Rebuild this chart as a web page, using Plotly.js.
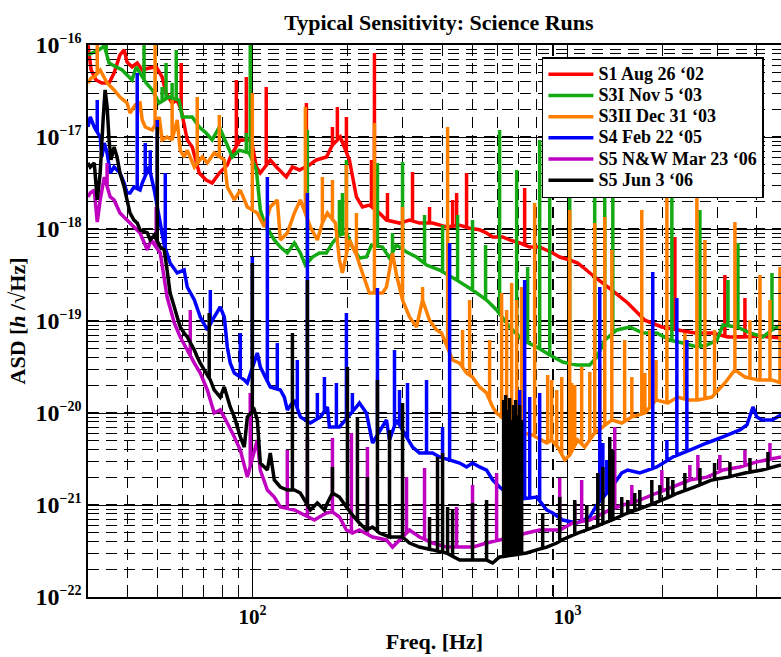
<!DOCTYPE html>
<html>
<head>
<meta charset="utf-8">
<script src="https://cdn.plot.ly/plotly-3.0.1.min.js"></script>
<style>html,body{margin:0;padding:0;background:#fff;overflow:hidden}</style>
</head>
<body>
<div id="chart" style="width:781px;height:657px"></div>
<script>
// ---------- Data ----------
const seriesNames = ["S1 Aug 26 \u201802", "S3I Nov 5 \u201803", "S3II Dec 31 \u201803", "S4 Feb 22 \u201805", "S5 N&amp;W Mar 23 \u201806", "S5 Jun 3 \u201806"];
const seriesColors = ["#ff0000", "#14aa14", "#ff8000", "#0000ff", "#c000c0", "#000000"];

// S1 (red): broadband floor, frequency [Hz] and ASD [1/sqrt(Hz)]
const s1Freq = [30,30.7,31.8,33.2,35.0,36.3,37.9,39.1,39.9,41.4,43.0,44.6,46.9,49.4,51.6,53.1,55.5,57.6,59.3,62.0,64.3,67.7,71.2,74.4,78.4,83.1,85.5,91.4,99.1,102.8,105.8,113.8,119.0,128.0,133.8,140.8,151.5,159.5,171.6,179.3,190.0,203.0,213.7,223.3,235.0,252.9,266.2,292.9,315.1,339.0,372.9,413.2,454.6,489.0,526.0,553.7,578.6,622.6,655.3,705.2,758.8,816.4,898.0,945.2,1017,1078,1119,1221,1384,1555,1762,1995,2243,2541,2877,3236,3664,4150,4770];
const s1Asd = [1.0e-16,5.35e-17,4.17e-17,3.86e-17,3.86e-17,4.96e-17,7.79e-17,8.83e-17,6.54e-17,5.77e-17,6.37e-17,5.35e-17,5.63e-17,5.77e-17,4.49e-17,3.01e-17,2.34e-17,2.52e-17,1.97e-17,9.3e-18,7.79e-18,4.06e-18,3.41e-18,3.16e-18,4.06e-18,4.96e-18,6.37e-18,9.3e-18,9.3e-18,4.72e-18,4.06e-18,5.63e-18,4.72e-18,3.68e-18,4.72e-18,4.38e-18,4.96e-18,5.63e-18,6.07e-18,8.19e-18,1.0e-17,5.63e-18,2.23e-18,1.735e-18,1.82e-18,1.49e-18,1.25e-18,1.16e-18,1.25e-18,1.16e-18,1.16e-18,1.05e-18,1.1e-18,1.02e-18,9.8e-19,9.06e-19,8.19e-19,8.19e-19,7.6e-19,7.05e-19,6.37e-19,6.37e-19,5.49e-19,4.96e-19,4.6e-19,4.27e-19,3.86e-19,3.01e-19,2.17e-19,1.57e-19,1.02e-19,8.61e-20,8.0e-20,7.41e-20,7.41e-20,6.7e-20,6.7e-20,6.85e-20,6.54e-20];
// S1 spectral lines: frequency and peak ASD
const s1LineFreq = [59.3,88.8,95.5,110.5,148.2,179.3,185.9,198.6,238.6,243.8,268.2,322.1,364.8,431.8,444.7,478.3,731.5,2195,3164,3664];
const s1LineAsd = [6.37e-17,4.17e-17,4.49e-17,3.49e-17,2.34e-17,1.285e-17,2.12e-17,1.65e-17,5.63e-18,8.19e-17,2.46e-18,4.17e-18,1.735e-18,2.07e-18,2.46e-18,4.06e-18,2.79e-18,8.19e-19,3.16e-19,1.78e-19];

// S3I (green)
const s3aFreq = [30,31.4,32.5,33.8,35.0,36.9,38.5,40.5,41.4,42.7,45.9,48.0,50.5,54.3,58.4,59.8,64.3,67.7,71.2,74.4,78.4,82.5,86.2,90.7,97.6,102.8,105.8,109.0,117.2,122.5,128.9,135.7,141.8,147.1,154.9,163.0,171.6,179.3,188.7,198.6,207.5,218.4,229.9,238.6,258.5,272.2,286.5,308.3,331.7,356.9,392.6,444.7,499.6,553.7,595.8,655.3,721.0,798.7,878.5,966.3,1071,1178,1240,1314,1435,1579,1736,1923,2116,2327,2578,2774,2985,3119,3456,3801,4180,4465,4770];
const s3aAsd = [7.79e-17,8.4e-17,8.83e-17,9.77e-17,6.37e-17,5.77e-17,5.35e-17,4.49e-17,4.17e-17,5.77e-17,3.86e-17,3.25e-17,2.34e-17,2.72e-17,2.52e-17,1.65e-17,1.65e-17,1.285e-17,1.105e-17,9.3e-18,1.285e-17,8.61e-18,6.07e-18,7.2e-18,6.7e-18,4.38e-18,1.61e-18,1.16e-18,7.6e-19,6.37e-19,5.49e-19,7.05e-19,5.49e-19,4.06e-19,4.96e-19,5.49e-19,5.49e-19,7.05e-19,8.61e-19,9.06e-19,6.37e-19,4.84e-19,4.96e-19,6.7e-19,6.37e-19,4.84e-19,6.7e-19,5.63e-19,4.96e-19,4.06e-19,3.58e-19,2.79e-19,2.17e-19,1.69e-19,1.32e-19,8.61e-20,6.2e-20,5.22e-20,4.27e-20,3.58e-20,3.33e-20,3.33e-20,4.06e-20,6.2e-20,8.0e-20,8.61e-20,7.41e-20,7.41e-20,6.2e-20,5.77e-20,5.22e-20,5.49e-20,6.2e-20,9.06e-20,8.61e-20,7.41e-20,6.7e-20,8.0e-20,9.06e-20];
const s3aLineFreq = [34.3,45.2,51.6,53.1,55.5,57.2,95.5,98.3,149.3,188.7,192.9,198.6,249.2,278.2,299.4,351.7,401.3,447.9,499.6,549.7,609.0,689.9,747.7,816.4,878.5,1017,1221,1314,1394,2147,2636,3236,3481,4465];
const s3aLineAsd = [1.2e-16,1.2e-16,3.49e-17,6.37e-17,3.86e-17,8.83e-17,1.105e-17,1.2e-16,1.19e-17,2.07e-18,2.46e-18,5.63e-18,5.22e-18,9.06e-19,5.35e-18,1.42e-18,1.105e-18,1.42e-18,1.25e-18,6.7e-19,1.19e-17,4.38e-18,3.86e-19,9.3e-18,5.63e-18,5e-18,5e-18,5e-18,5e-18,5e-18,1.61e-18,2.79e-19,7.05e-19,3.33e-19];

// S3II (orange)
const s3bFreq = [30,30.7,31.4,32.8,34.5,36.3,37.9,39.9,40.8,42.4,43.9,44.6,45.6,48.0,50.5,51.6,53.5,55.5,57.6,58.9,60.6,62.0,65.3,69.2,71.8,75.5,81.3,83.1,87.5,91.4,96.2,103.5,109.0,113.8,119.8,122.5,128.9,135.7,141.8,152.6,160.6,166.6,172.8,183.3,188.7,192.9,203.0,213.7,223.3,235.0,258.5,266.2,278.2,286.5,299.4,315.1,331.7,346.6,364.8,383.9,398.2,431.8,454.6,478.3,499.6,526.0,553.7,578.6,595.8,622.6,655.3,689.9,721.0,775.5,859.4,891.4,931.4,980.4,1017,1078,1135,1221,1296,1384,1488,1602,1762,1912,2084,2243,2413,2597,2877,3164,3405,3664,4030,4465,4770];
const s3bAsd = [3.86e-17,4.38e-17,4.49e-17,5.35e-17,3.86e-17,3.25e-17,2.72e-17,2.34e-17,1.82e-17,2.23e-17,2.34e-17,1.53e-17,1.285e-17,1.19e-17,1.65e-17,9.3e-18,1.0e-17,9.3e-18,1.53e-17,7.2e-18,6.07e-18,7.2e-18,4.72e-18,6.07e-18,5.22e-18,6.7e-18,5.63e-18,2.86e-18,2.07e-18,2.65e-18,1.735e-18,1.49e-18,1.05e-18,1.735e-18,2.07e-18,7.6e-19,9.06e-19,1.49e-18,2.07e-18,1.05e-18,7.6e-19,1.16e-18,1.49e-18,1.16e-18,4.6e-19,3.33e-19,7.6e-19,5.22e-19,3.33e-19,2.01e-19,2.01e-19,2.34e-19,5.49e-19,3.16e-19,1.69e-19,1.105e-19,8.61e-20,1.69e-19,1.02e-19,8.0e-20,7.41e-20,3.77e-20,3.49e-20,2.72e-20,2.46e-20,1.92e-20,1.65e-20,1.162e-20,1.0e-20,8.83e-21,8.0e-21,6.87e-21,6.07e-21,5.77e-21,4.72e-21,5.09e-21,4.27e-21,3.09e-21,3.49e-21,5.09e-21,4.27e-21,6.07e-21,7.05e-21,8.41e-21,7.79e-21,9.06e-21,1.0e-20,1.385e-20,1.285e-20,1.49e-20,1.385e-20,1.385e-20,1.49e-20,2.12e-20,2.94e-20,2.46e-20,2.29e-20,2.29e-20,2.12e-20];
const s3bLineFreq = [32.1,49.0,55.5,66.7,78.4,99.8,147.1,166.6,179.3,198.6,213.7,243.8,299.4,346.6,416.3,464.5,489.0,566.0,618.1,641.1,665.0,689.9,715.6,787.0,865.7,891.4,924.7,959.2,1017,1032,1055,1110,1178,1221,1267,1314,1384,1520,1602,1723,1762,1827,1912,2070,2361,2578,2734,2934,3405,3801,4090,4400,4734];
const s3bLineAsd = [1.2e-16,1.2e-16,2.52e-17,2.72e-17,1.735e-17,3.01e-17,2.12e-17,3.68e-18,3.41e-18,4.96e-18,1.49e-18,1.42e-17,1.735e-18,2.34e-19,1.285e-17,8.0e-20,1.69e-19,6.2e-20,2.01e-19,1.32e-19,2.59e-19,1.69e-19,2.34e-19,1.92e-18,2.59e-20,2.29e-20,1.78e-20,2.46e-20,1.61e-18,2.12e-20,2.01e-20,3.16e-20,2.79e-20,1.162e-18,3.33e-20,1.35e-18,5.92e-19,6.2e-20,2.46e-20,1.61e-18,2.72e-20,8.0e-20,3.77e-20,2.34e-18,7.41e-20,2.23e-18,7.6e-19,8.0e-20,1.19e-18,1.02e-19,3.16e-19,1.69e-19,3.86e-19];

// S4 (blue)
const s4Freq = [30,30.5,31.4,32.8,33.2,33.8,34.5,35.3,36.3,37.1,37.9,39.1,39.9,40.8,42.0,43.9,44.6,46.9,48.7,52.4,54.7,57.6,60.6,62.0,65.3,68.2,71.8,75.5,78.9,81.3,83.1,84.9,87.5,94.1,96.2,103.5,105.8,113.8,122.5,126.1,128.9,135.7,141.8,152.6,164.2,172.8,175.4,188.7,213.7,218.4,229.9,240.4,266.2,272.2,286.5,322.1,339.0,372.9,392.6,454.6,478.3,499.6,526.0,553.7,578.6,609.0,641.1,669.9,798.7,859.4,898.0,966.3,1071,1178,1240,1384,1488,1555,1698,1923,2162,2449,2774,3119,3532,3718,3886,3997,4150,4465,4770];
const s4Asd = [1.285e-17,1.65e-17,1.285e-17,1.0e-17,6.07e-18,8.61e-18,6.7e-18,4.06e-18,4.72e-18,4.38e-18,4.06e-18,3.16e-18,2.46e-18,2.46e-18,2.86e-18,2.65e-18,3.16e-18,4.72e-18,2.65e-18,6.7e-19,4.27e-19,3.33e-19,3.58e-19,2.34e-19,1.69e-19,1.105e-19,8.0e-20,1.105e-19,1.42e-19,1.105e-19,5.22e-20,3.49e-20,2.72e-20,2.29e-20,2.12e-20,4.49e-20,3.16e-20,1.92e-20,1.78e-20,1.49e-20,1.08e-20,1.385e-20,9.06e-21,7.79e-21,9.06e-21,1.162e-20,7.05e-21,7.05e-21,1.162e-20,1.285e-20,1.0e-20,4.72e-21,8.41e-21,5.09e-21,8.41e-21,4.27e-21,3.68e-21,3.68e-21,3.33e-21,2.86e-21,2.59e-21,2.86e-21,2.59e-21,2.40e-21,1.87e-21,1.57e-21,1.35e-21,1.13e-21,1.222e-21,8.83e-22,8.19e-22,6.87e-22,6.37e-22,7.41e-22,1.0e-21,1.57e-21,2.23e-21,2.40e-21,2.23e-21,2.59e-21,3.33e-21,3.96e-21,4.72e-21,5.49e-21,6.54e-21,7.41e-21,1.162e-20,9.06e-21,8.41e-21,8.41e-21,9.53e-21];
const s4LineFreq = [32.1,43.0,45.6,47.3,49.8,52.8,73.4,91.4,99.8,111.4,119.8,138.7,149.3,160.6,169.1,184.6,198.6,207.5,249.2,282.3,292.9,310.5,356.9,401.3,422.5,705.2,731.5,758.8,816.4,1267,1296,1334,1867,2070,2227,2396];
const s4LineAsd = [2.52e-17,4.96e-17,8.61e-18,7.2e-18,1.53e-17,4.06e-18,2.17e-19,7.41e-20,4.96e-19,3.68e-18,5.77e-20,3.77e-20,2.46e-18,1.65e-20,2.46e-20,2.12e-20,1.222e-19,1.65e-20,2.29e-19,4.84e-20,1.78e-20,2.12e-20,2.29e-20,7.05e-21,7.05e-19,1.78e-20,2.79e-19,1.49e-20,1.65e-20,2.34e-19,4.72e-21,3.09e-21,3.41e-19,5.09e-21,1.78e-19,6.2e-20];

// S5 N&W (magenta)
const s5aFreq = [30,30.5,31.4,32.1,32.8,33.8,35.3,36.3,37.9,39.9,42.0,43.9,46.3,47.6,50.9,53.5,56.4,58.9,62.0,65.3,68.2,71.8,75.5,78.9,83.1,87.5,91.4,96.2,103.5,105.8,111.4,117.2,122.5,135.7,141.8,157.1,163.0,171.6,179.3,188.7,198.6,207.5,218.4,240.4,266.2,278.2,315.1,339.0,372.9,413.2,454.6,499.6,553.7,609.0,742.2,816.4,898.0,945.2,1040,1178,1363,1500,1698,1923,2162,2449,2774,3119,3532,3997,4770];
const s5aAsd = [2.23e-18,2.46e-18,2.65e-18,1.19e-18,2.07e-18,3.68e-18,2.23e-18,2.07e-18,1.49e-18,1.25e-18,1.05e-18,9.06e-19,5.92e-19,7.6e-19,5.49e-19,1.82e-19,9.53e-20,6.7e-20,4.84e-20,3.49e-20,2.72e-20,1.78e-20,1.0e-20,1.08e-20,7.79e-21,5.49e-21,3.96e-21,2.01e-21,5.09e-21,2.40e-21,1.455e-21,1.222e-21,9.53e-22,8.83e-22,8.19e-22,6.87e-22,7.41e-22,8.19e-22,8.41e-22,7.41e-22,5.35e-22,4.96e-22,5.35e-22,4.49e-22,4.17e-22,3.49e-22,5.35e-22,4.49e-22,3.86e-22,3.49e-22,3.49e-22,3.49e-22,3.86e-22,4.17e-22,4.96e-22,5.35e-22,5.35e-22,5.35e-22,6.37e-22,6.87e-22,8.83e-22,1.0e-21,1.13e-21,1.35e-21,1.57e-21,1.87e-21,2.01e-21,2.40e-21,2.59e-21,2.94e-21,3.33e-21];
const s5aLineFreq = [34.5,49.4,63.4,98.3,128.9,149.3,179.3,206.0,231.6,308.3,351.7,444.7,499.6,595.8,631.8,655.3,679.8,705.2,945.2,1055,1110,1414,1602,1995,2449,2597,3051,3664,4400];
const s5aLineAsd = [5.22e-18,1.735e-18,1.32e-19,1.65e-20,3.96e-21,5.49e-21,5.35e-21,6.07e-21,4.27e-21,2.01e-21,2.52e-21,9.53e-22,1.65e-21,2.23e-21,2.40e-21,5.09e-21,3.96e-21,3.09e-21,1.97e-21,1.08e-21,1.87e-21,7.05e-21,1.65e-21,2.40e-21,2.72e-21,3.49e-21,3.49e-21,3.96e-21,4.72e-21];

// S5 Jun (black)
const s5bFreq = [30,30.5,31.4,32.1,32.8,33.5,34.0,34.5,35.0,35.5,36.3,37.1,37.9,39.1,39.9,40.8,42.0,43.0,43.9,46.3,47.3,48.7,50.9,52.4,53.5,54.7,56.4,57.6,58.9,60.6,62.0,65.3,66.7,68.2,70.2,73.4,75.5,78.9,81.3,84.9,87.5,91.4,94.1,96.2,101.2,103.5,105.8,111.4,113.8,117.2,122.5,128.9,135.7,141.8,152.6,160.6,169.1,172.8,179.3,188.7,198.6,207.5,218.4,229.9,240.4,252.9,272.2,299.4,315.1,339.0,372.9,413.2,454.6,499.6,553.7,578.6,609.0,742.2,798.7,859.4,924.7,959.2,1078,1221,1384,1555,1762,1995,2243,2541,2877,3236,3664,4150,4770];
const s5bAsd = [5.22e-18,4.72e-18,5.22e-18,2.07e-18,4.06e-18,1.53e-17,3.25e-17,2.12e-17,9.3e-18,5.63e-18,7.79e-18,6.07e-18,4.06e-18,2.86e-18,2.07e-18,1.49e-18,1.25e-18,1.16e-18,9.77e-19,9.06e-19,7.6e-19,8.61e-19,6.37e-19,5.92e-19,3.58e-19,2.01e-19,1.42e-19,1.105e-19,8.61e-20,7.41e-20,6.7e-20,4.84e-20,4.06e-20,3.49e-20,2.94e-20,2.29e-20,1.78e-20,1.49e-20,1.92e-20,1.162e-20,9.06e-21,5.49e-21,4.27e-21,9.06e-21,1.08e-20,8.41e-21,2.86e-21,2.40e-21,3.68e-21,1.87e-21,1.57e-21,1.455e-21,1.455e-21,1.35e-21,8.83e-22,1.05e-21,8.83e-22,1.05e-21,1.35e-21,1.222e-21,9.53e-22,7.79e-22,6.37e-22,5.35e-22,5.77e-22,4.96e-22,4.49e-22,4.49e-22,3.86e-22,3.49e-22,3.25e-22,3.01e-22,2.52e-22,2.52e-22,2.52e-22,2.34e-22,2.72e-22,3.01e-22,3.25e-22,3.49e-22,3.86e-22,4.17e-22,4.96e-22,5.77e-22,6.87e-22,8.19e-22,9.53e-22,1.13e-21,1.35e-21,1.57e-21,1.87e-21,2.01e-21,2.23e-21,2.40e-21,2.72e-21];
const s5bLineFreq = [49.8,72.8,99.8,133.8,149.3,179.3,200.1,215.3,231.6,249.2,272.2,299.4,364.8,386.8,401.3,416.3,431.8,499.6,553.7,627.2,636.5,645.8,655.3,665.0,674.9,684.8,694.9,705.2,715.6,834.5,945.2,1055,1152,1249,1296,1363,1394,1488,1555,1637,1698,1854,1967,2084,2162,2361,2636,2934,3283,3801,4336];
const s5bLineAsd = [1.285e-17,1.222e-19,4.27e-19,7.41e-20,2.79e-19,2.59e-21,3.16e-20,9.06e-21,2.01e-21,2.29e-20,6.54e-21,1.285e-20,7.41e-22,3.33e-21,3.68e-21,9.53e-22,8.83e-22,1.05e-21,1.13e-21,1.385e-20,1.57e-20,1.08e-20,1.455e-20,8.41e-21,1.222e-20,1.385e-20,9.53e-21,1.222e-20,8.41e-21,8.19e-22,1.222e-21,1.13e-21,1.0e-21,2.23e-21,2.59e-21,5.49e-21,3.96e-21,1.222e-21,1.13e-21,1.35e-21,1.455e-21,1.87e-21,1.65e-21,1.97e-21,1.87e-21,2.23e-21,2.52e-21,2.86e-21,2.94e-21,3.25e-21,3.77e-21];

// Axis spans and tick labels
const xSpan = [30, 4770];        // Hz
const ySpan = [1e-22, 1e-16];    // ASD
const yTickVals = [1e-22, 1e-21, 1e-20, 1e-19, 1e-18, 1e-17, 1e-16];
const yTickExp = ["\u221222", "\u221221", "\u221220", "\u221219", "\u221218", "\u221217", "\u221216"];
const xTickVals = [100, 1000];
const xTickExp = ["2", "3"];

// ---------- Build traces ----------
function footAt(bf, bv, f) {
  // height of the drawn floor line at frequency f (on its log-log segment)
  if (f <= bf[0]) return bv[0];
  for (let i = 1; i < bf.length; i++) {
    if (f <= bf[i]) {
      const t = (Math.log(f) - Math.log(bf[i-1])) / (Math.log(bf[i]) - Math.log(bf[i-1]));
      return Math.exp(Math.log(bv[i-1]) + t * (Math.log(bv[i]) - Math.log(bv[i-1])));
    }
  }
  return bv[bv.length - 1];
}
function build(bf, bv, lf, lv) {
  const n = Math.min(bf.length, bv.length);
  const F = bf.slice(0, n), V = bv.slice(0, n);
  const items = [];
  for (let i = 0; i < n; i++) items.push({f: F[i], ys: [V[i]]});
  const m = Math.min(lf.length, lv.length);
  for (let i = 0; i < m; i++) {
    const b = footAt(F, V, lf[i]);
    items.push({f: lf[i], ys: [b, lv[i], b]});
  }
  items.sort((a, b) => a.f - b.f);
  const x = [], y = [];
  items.forEach(it => it.ys.forEach(v => { x.push(it.f); y.push(v); }));
  return {x, y};
}

const sets = [
  [s1Freq, s1Asd, s1LineFreq, s1LineAsd],
  [s3aFreq, s3aAsd, s3aLineFreq, s3aLineAsd],
  [s3bFreq, s3bAsd, s3bLineFreq, s3bLineAsd],
  [s4Freq, s4Asd, s4LineFreq, s4LineAsd],
  [s5aFreq, s5aAsd, s5aLineFreq, s5aLineAsd],
  [s5bFreq, s5bAsd, s5bLineFreq, s5bLineAsd]
];
const FONT = "Liberation Serif, Times New Roman, serif";
const traces = sets.map((s, k) => {
  const d = build(s[0], s[1], s[2], s[3]);
  return {
    x: d.x, y: d.y, type: 'scatter', mode: 'lines',
    name: '<span style="font-size:18px">' + seriesNames[k] + '</span>',
    line: {color: seriesColors[k], width: 3.5, simplify: false},
    hoverinfo: 'skip'
  };
});

const gridDash = '11px,7px';
function axisBase() {
  return {
    type: 'log',
    showline: true, linecolor: '#000', linewidth: 1.6, mirror: 'ticks',
    ticks: 'inside', ticklen: 7, tickwidth: 1, tickcolor: '#000',
    showgrid: true, gridcolor: '#000', gridwidth: 1,
    tickmode: 'array',
    minor: {tickmode: 'linear', dtick: 'D1', showgrid: true, gridcolor: '#000', gridwidth: 1.1, griddash: gridDash,
            ticks: 'inside', ticklen: 7, tickcolor: '#000', tickwidth: 1},
    zeroline: false, fixedrange: true
  };
}

const layout = {
  width: 781, height: 657,
  margin: {l: 88, r: 0, t: 45, b: 60},
  paper_bgcolor: '#fff', plot_bgcolor: '#fff',
  font: {family: FONT, color: '#000', weight: 'bold'},
  title: {text: 'Typical Sensitivity: Science Runs', xref: 'container', x: 0.562, xanchor: 'center',
          yref: 'container', y: 0.966, yanchor: 'middle',
          font: {family: FONT, size: 22, color: '#000', weight: 'bold'}},
  xaxis: Object.assign(axisBase(), {
    range: [Math.log10(xSpan[0]), Math.log10(xSpan[1])],
    tickvals: xTickVals,
    ticktext: xTickExp.map(e => '10<sup><span style="font-size:14px">' + e + '</span></sup>'),
    tickfont: {family: FONT, size: 21, color: '#000', weight: 'bold'},
    title: {text: 'Freq. [Hz]', font: {family: FONT, size: 22, color: '#000', weight: 'bold'}, standoff: 6}
  }),
  yaxis: Object.assign(axisBase(), {
    range: [Math.log10(ySpan[0]), Math.log10(ySpan[1])],
    tickvals: yTickVals,
    ticktext: yTickExp.map(e => '10<sup><span style="font-size:14px">' + e + '</span></sup>'),
    tickfont: {family: FONT, size: 24, color: '#000', weight: 'bold'},
    title: {text: 'ASD [<i>h</i> /\u221AHz]', font: {family: FONT, size: 22, color: '#000', weight: 'bold'}, standoff: 4}
  }),
  showlegend: true,
  legend: {x: 0.655, y: 0.978, xanchor: 'left', yanchor: 'top', bgcolor: '#fff',
           bordercolor: '#000', borderwidth: 1.5, tracegroupgap: 0, itemwidth: 45,
           font: {family: FONT, size: 14, color: '#000', weight: 'bold'}},
  hovermode: false
};

Plotly.newPlot('chart', traces, layout, {staticPlot: true, displayModeBar: false});
</script>
</body>
</html>
